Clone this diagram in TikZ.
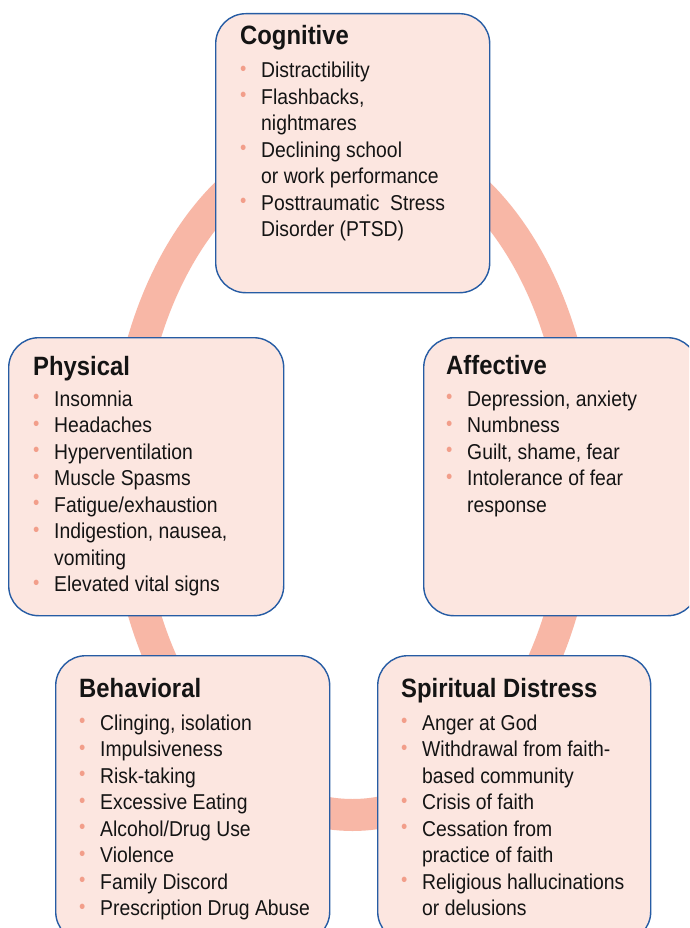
\documentclass[tikz,border=0pt]{standalone}
\usepackage{fontspec}
\setmainfont[FakeStretch=0.9]{Liberation Sans}

\definecolor{ringc}{RGB}{248,183,166}
\definecolor{boxfill}{RGB}{252,230,224}
\definecolor{boxline}{RGB}{38,92,164}
\definecolor{bulletc}{RGB}{242,158,138}
\definecolor{textc}{RGB}{20,20,20}

% bullet and hanging indent for the item lists
\newlength\itemind
\setlength\itemind{21pt}
\newcommand\bul{\makebox[\itemind][l]{\raisebox{2.5pt}{\fontsize{20}{20}\selectfont\textcolor{bulletc}{•}}}}
\newcommand\cont{\hspace*{\itemind}}
\newcommand\blist[1]{\parbox[t]{270pt}{\fontsize{21.5}{26.5}\selectfont\raggedright #1\par}}

\begin{document}
\begin{tikzpicture}[x=1pt,y=-1pt,
  panel/.style={draw=boxline, line width=1.4pt, fill=boxfill,
    rounded corners=30pt, rectangle, anchor=north west, inner sep=0pt},
  heading/.style={anchor=base west, inner sep=0pt, text=textc,
    font=\fontsize{26.5}{30}\selectfont\bfseries},
  items/.style={anchor=base west, inner sep=0pt, text=textc}]

\useasboundingbox (0,0) rectangle (689,928);
\clip (0,0) rectangle (689,928);
\fill[white] (0,0) rectangle (689,928);

% the cycle ring behind the five panels
\coordinate (ringc) at (352.5,476);
\draw[ringc, line width=32pt] (ringc) ellipse [x radius=228pt, y radius=339pt];

% panels
\node[panel, minimum width=274pt, minimum height=279pt] (cog) at (215,13) {};
\node[panel, minimum width=275pt, minimum height=278pt] (phys) at (8,337) {};
\node[panel, minimum width=274pt, minimum height=278pt] (aff) at (423,337) {};
\node[panel, minimum width=274pt, minimum height=286pt] (beh) at (55,655) {};
\node[panel, minimum width=273pt, minimum height=286pt] (spi) at (377,655) {};

% Cognitive
\node[heading] (cogT) at (240,45) {Cognitive};
\node[items] (cogL) at (240,77.7) {\blist{%
\bul Distractibility\\
\bul Flashbacks,\\
\cont nightmares\\
\bul Declining school\\
\cont or work performance\\
\bul Posttraumatic~ Stress\\
\cont Disorder (PTSD)}};

% Physical
\node[heading] (physT) at (33,375) {Physical};
\node[items] (physL) at (33,406) {\blist{%
\bul Insomnia\\
\bul Headaches\\
\bul Hyperventilation\\
\bul Muscle Spasms\\
\bul Fatigue/exhaustion\\
\bul Indigestion, nausea,\\
\cont vomiting\\
\bul Elevated vital signs}};

% Affective
\node[heading] (affT) at (446,374.5) {Affective};
\node[items] (affL) at (446,406) {\blist{%
\bul Depression, anxiety\\
\bul Numbness\\
\bul Guilt, shame, fear\\
\bul Intolerance of fear\\
\cont response}};

% Behavioral
\node[heading] (behT) at (79,697) {Behavioral};
\node[items] (behL) at (79,730) {\blist{%
\bul Clinging, isolation\\
\bul Impulsiveness\\
\bul Risk-taking\\
\bul Excessive Eating\\
\bul Alcohol/Drug Use\\
\bul Violence\\
\bul Family Discord\\
\bul Prescription Drug Abuse}};

% Spiritual Distress
\node[heading] (spiT) at (401,697) {Spiritual Distress};
\node[items] (spiL) at (401,730) {\blist{%
\bul Anger at God\\
\bul Withdrawal from faith-\\
\cont based community\\
\bul Crisis of faith\\
\bul Cessation from\\
\cont practice of faith\\
\bul Religious hallucinations\\
\cont or delusions}};

\end{tikzpicture}
\end{document}
